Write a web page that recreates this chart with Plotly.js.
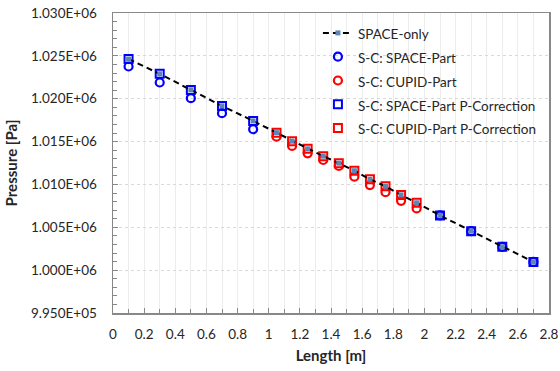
<!DOCTYPE html>
<html>
<head>
<meta charset="utf-8">
<script src="https://cdn.plot.ly/plotly-3.0.1.min.js"></script>
<style>html,body{margin:0;padding:0;background:#fff;}#chart{width:560px;height:371px;}</style>
</head>
<body>
<div id="chart"></div>
<script>
// SPACE-only
const spaceOnlyX = [0.1,0.3,0.5,0.7,0.9,1.05,1.15,1.25,1.35,1.45,1.55,1.65,1.75,1.85,1.95,2.1,2.3,2.5,2.7];
const spaceOnlyP = [1024620,1022900,1021030,1019160,1017410,1016040,1015050,1014150,1013300,1012480,1011600,1010600,1009780,1008780,1007860,1006380,1004550,1002720,1000960];
// S-C: SPACE-Part
const spacePartX = [0.1,0.3,0.5,0.7,0.9,2.1,2.3,2.5,2.7];
const spacePartP = [1023760,1021890,1020060,1018310,1016440,1006380,1004550,1002720,1000960];
// S-C: CUPID-Part
const cupidPartX = [1.05,1.15,1.25,1.35,1.45,1.55,1.65,1.75,1.85,1.95];
const cupidPartP = [1015570,1014490,1013630,1012850,1012150,1010900,1009930,1009100,1008090,1007200];
// S-C: SPACE-Part P-Correction
const spaceCorrX = [0.1,0.3,0.5,0.7,0.9,2.1,2.3,2.5,2.7];
const spaceCorrP = [1024620,1022900,1021030,1019160,1017410,1006380,1004550,1002720,1000960];
// S-C: CUPID-Part P-Correction
const cupidCorrX = [1.05,1.15,1.25,1.35,1.45,1.55,1.65,1.75,1.85,1.95];
const cupidCorrP = [1016040,1015050,1014150,1013300,1012480,1011600,1010600,1009780,1008780,1007860];

const seriesNames = ['SPACE-only','S-C: SPACE-Part','S-C: CUPID-Part','S-C: SPACE-Part P-Correction','S-C: CUPID-Part P-Correction'];

const yTickVals = [995000,1000000,1005000,1010000,1015000,1020000,1025000,1030000];
const yTickText = ['9.950E+05','1.000E+06','1.005E+06','1.010E+06','1.015E+06','1.020E+06','1.025E+06','1.030E+06'];
const xTickVals = [0,0.2,0.4,0.6,0.8,1,1.2,1.4,1.6,1.8,2,2.2,2.4,2.6,2.8];
const xTickText = ['0','0.2','0.4','0.6','0.8','1','1.2','1.4','1.6','1.8','2','2.2','2.4','2.6','2.8'];

const FONT = 'Lato, "Open Sans", sans-serif';
const lg = n => '<span style="font-size:13.5px">' + n + '</span>';

const traces = [
  {x: spacePartX, y: spacePartP, name: lg(seriesNames[1]), mode: 'markers', legendrank: 2,
   marker: {symbol: 'circle-open', size: 8, color: '#0000FF', line: {width: 2.2, color: '#0000FF'}}},
  {x: cupidPartX, y: cupidPartP, name: lg(seriesNames[2]), mode: 'markers', legendrank: 3,
   marker: {symbol: 'circle-open', size: 8, color: '#FF0000', line: {width: 2.2, color: '#FF0000'}}},
  {x: spaceCorrX, y: spaceCorrP, name: lg(seriesNames[3]), mode: 'markers', legendrank: 4,
   marker: {symbol: 'square-open', size: 8, color: '#0000FF', line: {width: 2, color: '#0000FF'}}},
  {x: cupidCorrX, y: cupidCorrP, name: lg(seriesNames[4]), mode: 'markers', legendrank: 5,
   marker: {symbol: 'square-open', size: 8, color: '#FF0000', line: {width: 2, color: '#FF0000'}}},
  {x: spaceOnlyX, y: spaceOnlyP, name: lg(seriesNames[0]), mode: 'lines+markers', legendrank: 1,
   line: {color: '#000000', width: 2, dash: '6px,4px'},
   marker: {symbol: 'square', size: 5, color: '#5B86B5', line: {width: 0}}}
];

const layout = {
  width: 560, height: 371,
  margin: {l: 113, r: 11, t: 13, b: 58},
  paper_bgcolor: '#ffffff', plot_bgcolor: '#ffffff',
  font: {family: FONT, size: 13, color: '#262626'},
  showlegend: true,
  legend: {x: 0.47, y: 0.99, xanchor: 'left', yanchor: 'top', bgcolor: 'rgba(0,0,0,0)',
           font: {family: FONT, size: 16, color: '#262626'}, borderwidth: 0, tracegroupgap: 0},
  xaxis: {
    range: [0, 2.8], tickmode: 'array', tickvals: xTickVals, ticktext: xTickText,
    ticks: 'inside', ticklen: 5, tickcolor: '#888', tickwidth: 1,
    showline: true, linecolor: '#888', linewidth: 1.5, mirror: true,
    showgrid: true, gridcolor: '#ececec', gridwidth: 1, zeroline: false,
    minor: {dtick: 0.1, tick0: 0, showgrid: true, gridcolor: '#ececec', ticks: 'inside', ticklen: 4, tickcolor: '#888'},
    ticklabelstandoff: 8,
    tickfont: {family: FONT, size: 13.5, color: '#262626'},
    title: {text: '<b>Length [m]</b>', font: {family: FONT, size: 15, color: '#262626'}, standoff: 10}
  },
  yaxis: {
    range: [995000, 1030000], tickmode: 'array', tickvals: yTickVals, ticktext: yTickText,
    ticks: 'inside', ticklen: 5, tickcolor: '#888', tickwidth: 1,
    showline: true, linecolor: '#888', linewidth: 1.5, mirror: true,
    showgrid: true, gridcolor: '#d9d9d9', griddash: 'dot', gridwidth: 1, zeroline: false,
    minor: {dtick: 1000, tick0: 995000, showgrid: false, ticks: 'inside', ticklen: 4, tickcolor: '#888'},
    ticklabelstandoff: 12,
    tickfont: {family: FONT, size: 13.5, color: '#262626'},
    title: {text: '<b>Pressure [Pa]</b>', font: {family: FONT, size: 15, color: '#262626'}, standoff: 10}
  }
};

Plotly.newPlot('chart', traces, layout, {displayModeBar: false, staticPlot: true});
</script>
</body>
</html>
